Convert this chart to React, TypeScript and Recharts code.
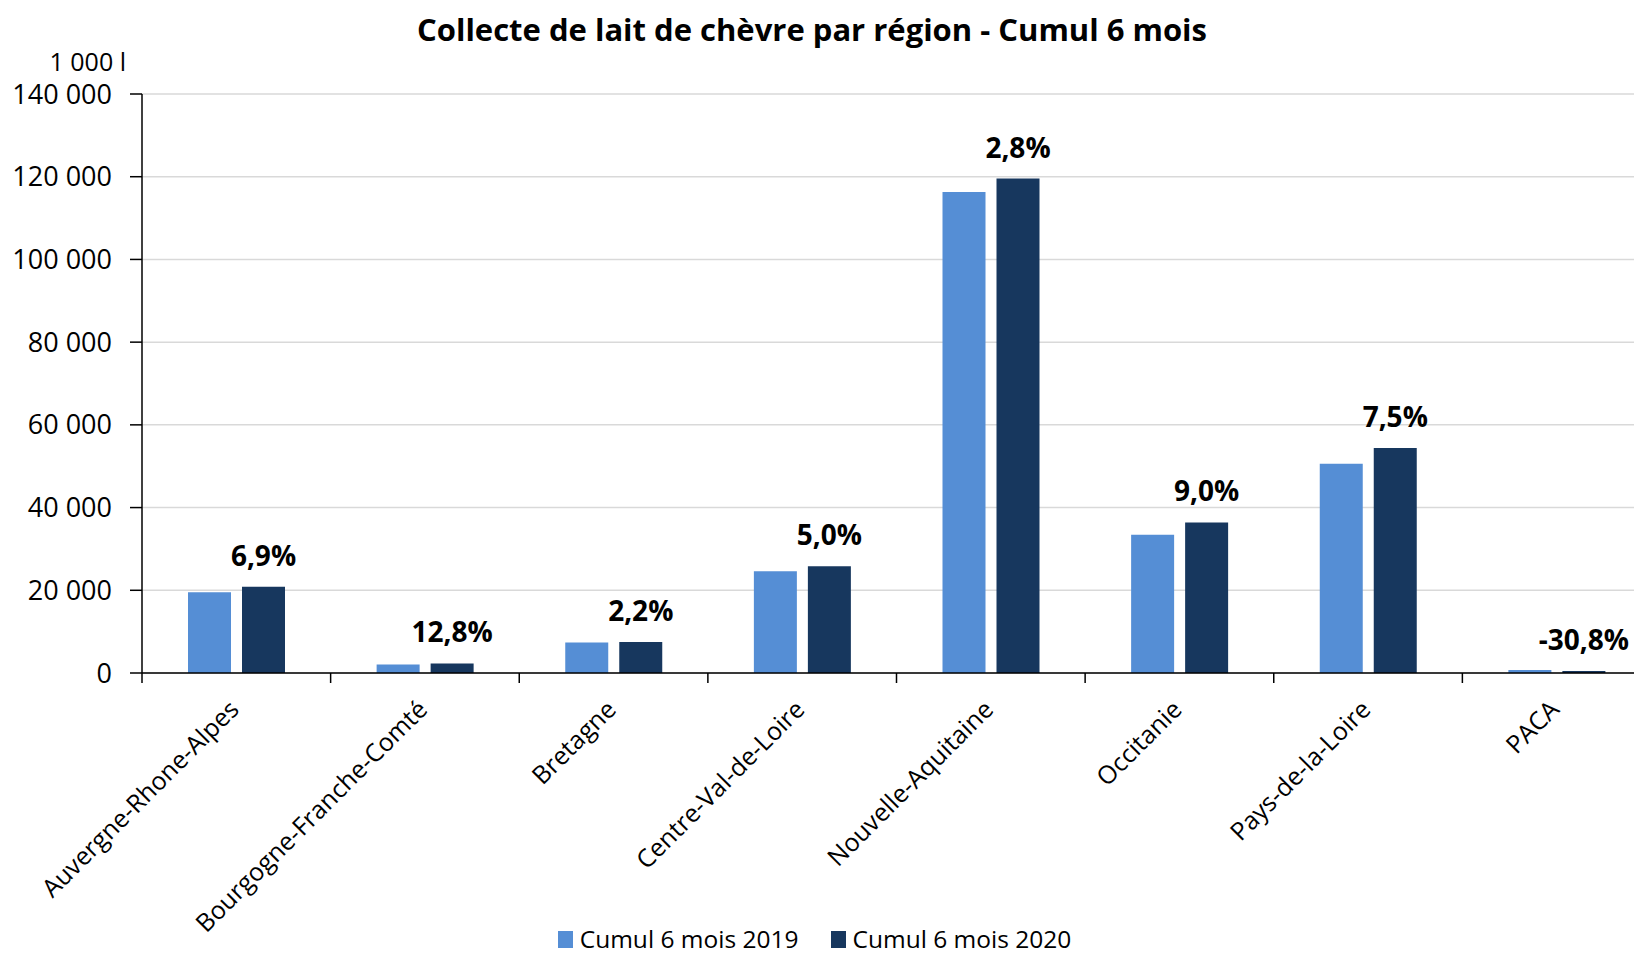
import React from 'react';
import { BarChart, Bar, XAxis, YAxis, CartesianGrid, LabelList, Legend } from 'recharts';

// Collecte de lait de chèvre, en 1 000 litres
const categories = [
  'Auvergne-Rhone-Alpes',
  'Bourgogne-Franche-Comté',
  'Bretagne',
  'Centre-Val-de-Loire',
  'Nouvelle-Aquitaine',
  'Occitanie',
  'Pays-de-la-Loire',
  'PACA',
];
const cumul2019 = [19500, 2050, 7350, 24600, 116300, 33400, 50600, 700];
const cumul2020 = [20850, 2310, 7500, 25800, 119550, 36400, 54400, 485];
const evolution = ['6,9%', '12,8%', '2,2%', '5,0%', '2,8%', '9,0%', '7,5%', '-30,8%'];
const yTicks = [0, 20000, 40000, 60000, 80000, 100000, 120000, 140000];

const COLOR_2019 = '#558ED5';
const COLOR_2020 = '#17375E';
const FONT = '"Open Sans", sans-serif';

const CHART_W = 1660;
const CHART_H = 956;
const MARGIN = { top: 94, right: 9, left: 0, bottom: 0 };
const Y_AXIS_W = 142;
const BAND = (CHART_W - MARGIN.left - MARGIN.right - Y_AXIS_W) / categories.length;

const data = categories.map((region, i) => ({
  region,
  v2019: cumul2019[i],
  v2020: cumul2020[i],
  evol: evolution[i],
}));

const fmt = (v: number) => String(v).replace(/\B(?=(\d{3})+(?!\d))/g, ' ');

function CategoryTick(props: any) {
  const { x, y, payload } = props;
  const lx = x - BAND / 2;
  const tx = x + 4;
  const ty = y + 38;
  return (
    <g>
      <line x1={lx} x2={lx} y1={y} y2={y + 10} stroke="#000" strokeWidth={1.5} />
      <text
        x={tx}
        y={ty}
        transform={`rotate(-45, ${tx}, ${ty})`}
        textAnchor="end"
        fontSize={25}
        fontFamily={FONT}
        fill="#000"
      >
        {payload.value}
      </text>
    </g>
  );
}

function LegendContent() {
  const items = [
    { label: 'Cumul 6 mois 2019', color: COLOR_2019 },
    { label: 'Cumul 6 mois 2020', color: COLOR_2020 },
  ];
  return (
    <div
      style={{
        display: 'flex',
        justifyContent: 'center',
        height: 40,
        boxSizing: 'border-box',
        paddingBottom: 4,
        alignItems: 'flex-end',
        paddingLeft: 10,
        fontFamily: FONT,
        lineHeight: '26px',
      }}
    >
      {items.map((it) => (
        <div key={it.label} style={{ display: 'flex', alignItems: 'center', marginRight: 32 }}>
          <span style={{ width: 15, height: 17, background: it.color, display: 'inline-block', marginRight: 7 }} />
          <span style={{ fontSize: 24.5, color: '#000' }}>{it.label}</span>
        </div>
      ))}
    </div>
  );
}

export default function App() {
  return (
    <div
      style={{
        position: 'absolute',
        left: 0,
        top: 0,
        width: 1634,
        height: 956,
        overflow: 'hidden',
        background: '#fff',
        fontFamily: FONT,
      }}
    >
      <div
        style={{
          position: 'absolute',
          left: 0,
          width: 1624,
          top: 9,
          textAlign: 'center',
          fontSize: 31,
          lineHeight: '40px',
          fontWeight: 700,
          color: '#000',
        }}
      >
        Collecte de lait de chèvre par région - Cumul 6 mois
      </div>
      <div
        style={{
          position: 'absolute',
          right: 1634 - 126,
          top: 51,
          fontSize: 25,
          lineHeight: '20px',
          color: '#000',
          whiteSpace: 'nowrap',
        }}
      >
        1 000 l
      </div>
      <BarChart width={CHART_W} height={CHART_H} data={data} margin={MARGIN} barSize={43} barGap={11}>
        <CartesianGrid vertical={false} stroke="#d9d9d9" strokeWidth={1.5} />
        <XAxis
          dataKey="region"
          interval={0}
          tickSize={0}
          tickMargin={0}
          height={243}
          axisLine={{ stroke: '#000', strokeWidth: 1.5 }}
          tickLine={false}
          tick={<CategoryTick />}
        />
        <YAxis
          width={Y_AXIS_W}
          domain={[0, 140000]}
          ticks={yTicks}
          interval={0}
          tickFormatter={fmt}
          tickSize={12}
          tickMargin={18}
          axisLine={{ stroke: '#000', strokeWidth: 1.5 }}
          tickLine={{ stroke: '#000', strokeWidth: 1.5 }}
          tick={{ fill: '#000', fontSize: 27, fontFamily: FONT }}
        />
        <Legend verticalAlign="bottom" content={<LegendContent />} />
        <Bar dataKey="v2019" fill={COLOR_2019} isAnimationActive={false} />
        <Bar dataKey="v2020" fill={COLOR_2020} isAnimationActive={false}>
          <LabelList
            dataKey="evol"
            position="top"
            offset={21}
            style={{ fontSize: 28, fontWeight: 700, fill: '#000', fontFamily: FONT }}
          />
        </Bar>
      </BarChart>
    </div>
  );
}
